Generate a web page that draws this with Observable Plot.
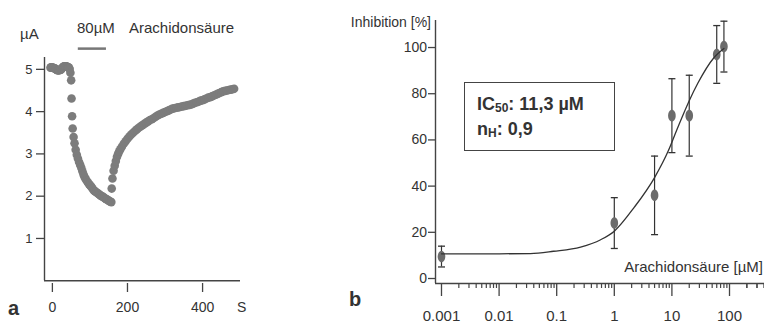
<!DOCTYPE html>
<html><head><meta charset="utf-8">
<script src="https://cdn.jsdelivr.net/npm/d3@7"></script>
<script src="https://cdn.jsdelivr.net/npm/@observablehq/plot@0.6"></script>
<style>
body{margin:0;background:#fff;}
#wrap{position:relative;width:764px;height:323px;overflow:hidden;background:#fff;font-family:"Liberation Sans",Arial,sans-serif;color:#333;}
.t{position:absolute;line-height:1;white-space:nowrap;}
.pane{position:absolute;top:0;}
.box{position:absolute;border:1.5px solid #444;box-sizing:border-box;}
sub{font-size:12px;vertical-align:baseline;position:relative;top:2px;}
</style></head><body><div id="wrap"></div>
<script>
// ---- Panel a: current trace (time in s, current in µA) ----
const timeSec = [
  -5,-3.5,-2,-0.5,1,2.5,4,5.5,7,8.5,10,11.5,13,14.5,16,17.5,19,20.5,22,23.5,25,26.5,28,29.5,31,32.5,34,35.5,37,38.5,40,41.5,43,44.5,46,
  48,50,51,52.5,54,56.5,59,62,65,68,71,74,77,80,83,86,89,92,95,98,101,104,107,110,113,116,119,122,125,128,131,134,137,140,143,146,149,152,155,157,
  158,160,163,166,169,172,175,178,181,185,190,195,200,205,210,215,220,225,230,235,240,245,250,255,260,265,270,275,280,285,290,295,300,305,310,315,320,325,330,335,340,345,350,355,360,365,370,375,380,385,390,395,400,405,410,415,420,425,430,435,440,445,450,455,460,465,470,475,480,484
];
const currentUA = [
  5.04,5.05,5.04,5.04,5.04,5.03,5.03,5.02,5.02,5.01,5.00,4.99,4.98,4.98,4.98,4.98,4.98,4.99,4.99,5.00,5.02,5.03,5.05,5.06,5.07,5.07,5.07,5.07,5.07,5.06,5.06,5.05,5.05,5.03,5.01,
  4.92,4.74,4.31,3.89,3.60,3.40,3.25,3.10,2.98,2.89,2.81,2.74,2.67,2.59,2.51,2.45,2.40,2.36,2.32,2.28,2.25,2.22,2.18,2.14,2.12,2.10,2.08,2.06,2.04,2.02,2.00,1.99,1.97,1.95,1.93,1.92,1.90,1.88,1.87,1.86,
  2.18,2.42,2.60,2.72,2.83,2.93,3.00,3.06,3.11,3.17,3.24,3.30,3.36,3.41,3.46,3.50,3.54,3.58,3.62,3.65,3.68,3.71,3.74,3.77,3.80,3.82,3.85,3.88,3.91,3.93,3.95,3.97,3.99,4.01,4.03,4.05,4.07,4.08,4.09,4.10,4.11,4.12,4.13,4.14,4.15,4.16,4.17,4.19,4.21,4.22,4.24,4.26,4.27,4.29,4.31,4.33,4.34,4.36,4.38,4.40,4.42,4.44,4.46,4.48,4.49,4.50,4.51,4.52,4.53,4.54
];
const applicationStart = [69];
const applicationEnd = [144];
const applicationLevel = 5.49;
const xTicksA = [0, 200, 400];
const yTicksA = [1, 2, 3, 4, 5];

// ---- Panel b: concentration-response ----
const concUM = [0.001, 1, 5, 10, 20, 60, 80];
const inhibitionPct = [9.5, 24, 36, 70.5, 70.5, 97, 100.4];
const inhibitionErr = [4.5, 11, 17, 16, 17.5, 12.5, 11];
const fitConc = [0.001, 0.003, 0.01, 0.035, 0.088, 0.26, 0.58, 1, 2.2, 5, 8.7, 12, 20, 28, 54, 80];
const fitInhib = [10.7, 10.7, 10.7, 10.8, 11.8, 13.6, 16.8, 20.5, 30.7, 43.7, 55.4, 64, 77, 84.4, 95.7, 99.6];
const xTicksB = [0.001, 0.01, 0.1, 1, 10, 100];
const xTickLabelsB = ["0.001", "0.01", "0.1", "1", "10", "100"];
const yTicksB = [0, 20, 40, 60, 80, 100];

const wrap = document.getElementById("wrap");
const axisColor = "#444";

// Panel a
const traceData = timeSec.map((t, i) => ({t, v: currentUA[i]}));
const barData = applicationStart.map((s, i) => ({s, e: applicationEnd[i], y: applicationLevel}));
const xDomainA = [-21, 501];
const yDomainA = [-0.065, 5.28];
const plotA = Plot.plot({
  width: 260, height: 323,
  marginLeft: 44, marginRight: 20, marginTop: 57, marginBottom: 40,
  x: {domain: xDomainA},
  y: {domain: yDomainA},
  style: {fontFamily: "'Liberation Sans', Arial, sans-serif", color: "#333", background: "transparent"},
  marks: [
    Plot.ruleX([xDomainA[0]], {y1: 0, y2: yDomainA[1], stroke: axisColor, strokeWidth: 1.4}),
    Plot.ruleY([0], {x1: xDomainA[0], x2: xDomainA[1], stroke: axisColor, strokeWidth: 1.4}),
    Plot.axisX(xTicksA, {tickSize: 9, tickPadding: 10, fontSize: 14, label: null, stroke: axisColor, strokeWidth: 1.3}),
    Plot.axisY(yTicksA, {tickSize: 8, tickPadding: 4, fontSize: 13, label: null, stroke: axisColor, strokeWidth: 1.3}),
    Plot.ruleY(barData, {x1: "s", x2: "e", y: "y", stroke: "#777", strokeWidth: 2.5}),
    Plot.dot(traceData, {x: "t", y: "v", r: 4.3, fill: "#7c7c7c", stroke: "none"})
  ]
});

// Panel b
const ellipseSym = {draw(ctx) {
  const rx = 3.8, ry = 5.8, k = 0.5523;
  ctx.moveTo(rx, 0);
  ctx.bezierCurveTo(rx, k * ry, k * rx, ry, 0, ry);
  ctx.bezierCurveTo(-k * rx, ry, -rx, k * ry, -rx, 0);
  ctx.bezierCurveTo(-rx, -k * ry, -k * rx, -ry, 0, -ry);
  ctx.bezierCurveTo(k * rx, -ry, rx, -k * ry, rx, 0);
  ctx.closePath();
}};
const capSym = {draw(ctx) { ctx.moveTo(-3.5, 0); ctx.lineTo(3.5, 0); }};
const pts = concUM.map((c, i) => ({c, v: inhibitionPct[i], lo: inhibitionPct[i] - inhibitionErr[i], hi: inhibitionPct[i] + inhibitionErr[i]}));
const fit = fitConc.map((c, i) => ({c, v: fitInhib[i]}));
const minorTicksB = [];
for (const d of xTicksB) for (let k = 2; k <= 9; k++) minorTicksB.push(d * k);
minorTicksB.push(200, 300, 400);
const labelMap = new Map(xTicksB.map((d, i) => [d, xTickLabelsB[i]]));
const xDomainB = [0.000787, 405];
const yDomainB = [-2.16, 111.7];
const plotB = Plot.plot({
  width: 424, height: 323,
  marginLeft: 95, marginRight: 0, marginTop: 20, marginBottom: 40,
  x: {type: "log", domain: xDomainB},
  y: {domain: yDomainB},
  style: {fontFamily: "'Liberation Sans', Arial, sans-serif", color: "#333", background: "transparent"},
  marks: [
    Plot.ruleX([xDomainB[0]], {stroke: axisColor, strokeWidth: 1.4}),
    Plot.ruleY([yDomainB[0]], {stroke: axisColor, strokeWidth: 1.4}),
    Plot.axisX(minorTicksB, {tickSize: 5, tickFormat: () => "", label: null, stroke: axisColor, strokeWidth: 1.2}),
    Plot.axisX(xTicksB, {tickSize: 13, tickPadding: 14, fontSize: 15, tickFormat: d => labelMap.get(d), label: null, stroke: axisColor, strokeWidth: 1.3}),
    Plot.axisY(yTicksB, {tickSize: 7, tickPadding: 1.5, fontSize: 14, label: null, stroke: axisColor, strokeWidth: 1.3}),
    Plot.ruleX(pts, {x: "c", y1: "lo", y2: "hi", stroke: "#333", strokeWidth: 1.2}),
    Plot.dot(pts, {x: "c", y: "hi", symbol: capSym, fill: "none", stroke: "#333", strokeWidth: 1.3}),
    Plot.dot(pts, {x: "c", y: "lo", symbol: capSym, fill: "none", stroke: "#333", strokeWidth: 1.3}),
    Plot.dot(pts, {x: "c", y: "v", symbol: ellipseSym, fill: "#6b6b6b", stroke: "none"}),
    Plot.line(fit, {x: "c", y: "v", stroke: "#333", strokeWidth: 1.3, curve: "monotone-x"})
  ]
});

function pane(el, left, width) {
  const d = document.createElement("div");
  d.className = "pane";
  d.style.left = left + "px";
  d.style.width = width + "px";
  d.appendChild(el);
  wrap.appendChild(d);
}
pane(plotA, 0, 260);
pane(plotB, 340, 424);

function label(html, opts) {
  const d = document.createElement("div");
  d.className = "t";
  d.innerHTML = html;
  const fs = opts.fs;
  d.style.fontSize = fs + "px";
  if (opts.bold) d.style.fontWeight = "bold";
  d.style.top = (opts.baseline - 0.8465 * fs) + "px";
  if (opts.left != null) d.style.left = opts.left + "px";
  if (opts.right != null) d.style.right = opts.right + "px";
  wrap.appendChild(d);
}
label("µA", {fs: 15, left: 20, baseline: 39});
label("80µM", {fs: 15, left: 77, baseline: 33});
label("Arachidonsäure", {fs: 15, left: 129, baseline: 33});
label("S", {fs: 14, left: 237, baseline: 312});
label("a", {fs: 20, bold: true, left: 8, baseline: 315});
label("b", {fs: 20, bold: true, left: 349, baseline: 306});
label("Inhibition [%]", {fs: 14, right: 333, baseline: 26.7});
label("Arachidonsäure [µM]", {fs: 15, right: 1, baseline: 272});

const box = document.createElement("div");
box.className = "box";
box.style.left = "464px"; box.style.top = "82px"; box.style.width = "151px"; box.style.height = "69px";
wrap.appendChild(box);
label("IC<sub>50</sub>: 11,3 µM", {fs: 18, bold: true, left: 477, baseline: 110});
label("n<sub>H</sub>: 0,9", {fs: 18, bold: true, left: 477, baseline: 135});
</script>
</body></html>
